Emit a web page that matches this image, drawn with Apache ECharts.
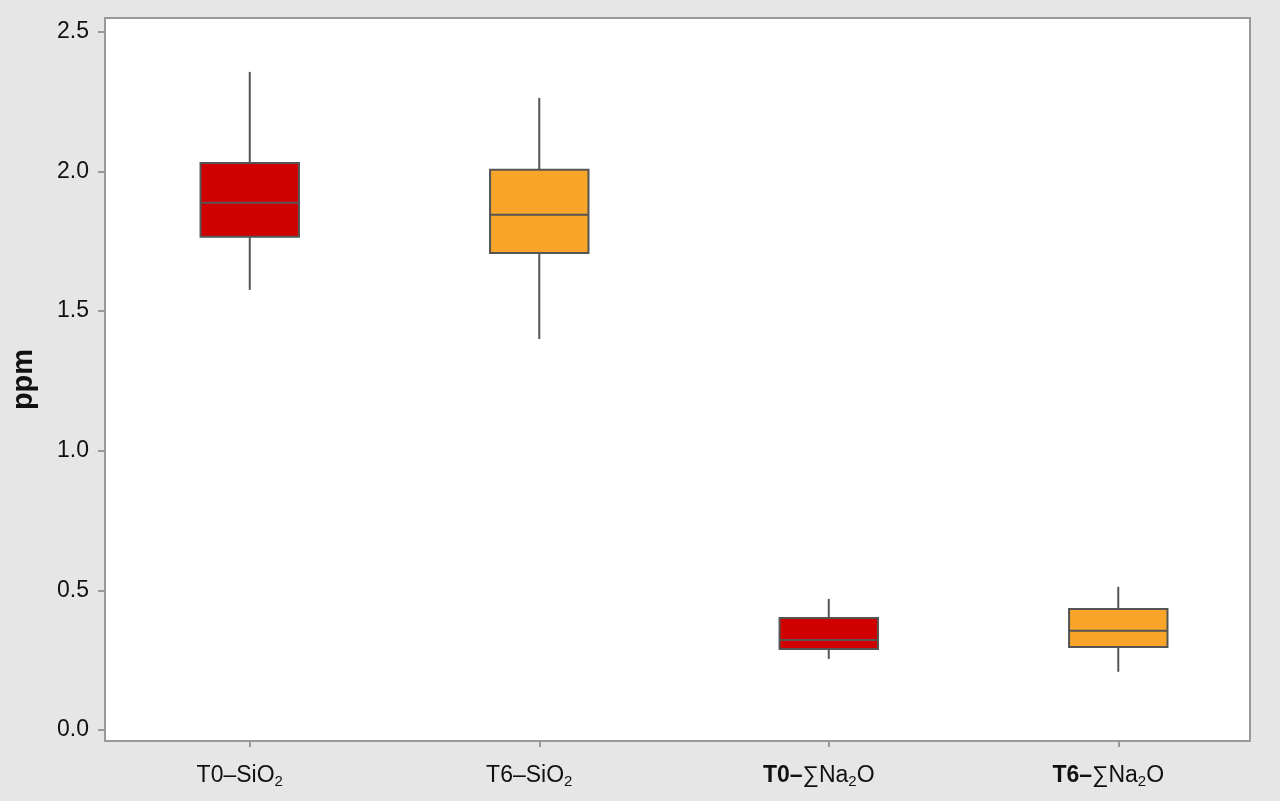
<!DOCTYPE html>
<html><head><meta charset="utf-8">
<script src="https://cdn.jsdelivr.net/npm/echarts@6/dist/echarts.min.js"></script>
<style>html,body{margin:0;padding:0;background:#e6e6e6;}#c{width:1280px;height:801px;}</style>
</head><body><div id="c"></div>
<script>
var categories = ['T0–SiO2', 'T6–SiO2', 'T0–∑Na2O', 'T6–∑Na2O'];
var whiskerLow = [1.576, 1.400, 0.254, 0.208];
var q1 = [1.766, 1.708, 0.290, 0.297];
var median = [1.888, 1.845, 0.322, 0.355];
var q3 = [2.031, 2.006, 0.401, 0.433];
var whiskerHigh = [2.357, 2.264, 0.469, 0.512];
var boxColors = ['#d10000', '#f8a52a', '#d10000', '#f8a52a'];
var yTicks = [0, 0.5, 1.0, 1.5, 2.0, 2.5];
var xLabelsRich = [
  'T0–SiO{sub|2}',
  'T6–SiO{sub|2}',
  '{b|T0–}∑Na{sub|2}O',
  '{b|T6–}∑Na{sub|2}O'
];

var data = categories.map(function (c, i) {
  return [i, whiskerLow[i], q1[i], median[i], q3[i], whiskerHigh[i]];
});

var FONT = 'Liberation Sans, Arial, sans-serif';
var chart = echarts.init(document.getElementById('c'), null, {renderer: 'canvas'});
var lineCol = '#555555';
chart.setOption({
  backgroundColor: '#e6e6e6',
  animation: false,
  grid: {left: 105, right: 30, top: 18, bottom: 60, show: true, backgroundColor: '#ffffff', borderColor: '#999999', borderWidth: 2},
  xAxis: {
    type: 'value', min: -0.5, max: 3.455,
    axisLine: {show: false, onZero: false},
    splitLine: {show: false},
    axisTick: {show: true, length: 6, lineStyle: {color: '#999999', width: 2}, customValues: [0, 1, 2, 3]},
    axisLabel: {
      customValues: [0, 1, 2, 3], margin: 22, padding: [0, 20, 0, 0],
      fontFamily: FONT, fontSize: 23, color: '#111', lineHeight: 26,
      formatter: function (v) { return xLabelsRich[Math.round(v)]; },
      rich: {
        b: {fontWeight: 'bold', fontSize: 23, fontFamily: FONT, color: '#111', lineHeight: 26},
        sub: {fontSize: 15, fontFamily: FONT, color: '#111', lineHeight: 26, padding: [12, 0, 0, 0]}
      }
    }
  },
  yAxis: {
    type: 'value', min: -0.04, max: 2.55,
    name: 'ppm', nameLocation: 'middle', nameRotate: 90, nameGap: 67,
    nameTextStyle: {fontFamily: FONT, fontSize: 29, fontWeight: 'bold', color: '#111'},
    axisLine: {show: false, onZero: false},
    splitLine: {show: false},
    axisTick: {show: true, length: 7, lineStyle: {color: '#999999', width: 2}, customValues: yTicks},
    axisLabel: {customValues: yTicks, margin: 16, fontFamily: FONT, fontSize: 23, color: '#111',
      formatter: function (v) { return v.toFixed(1); }}
  },
  series: [{
    type: 'custom',
    data: data,
    encode: {x: 0, y: [1, 2, 3, 4, 5]},
    renderItem: function (params, api) {
      var x = api.value(0);
      var i = params.dataIndex;
      var half = api.size([1, 0])[0] * 0.34 / 2;
      var pLow = api.coord([x, api.value(1)]);
      var pQ1 = api.coord([x, api.value(2)]);
      var pMed = api.coord([x, api.value(3)]);
      var pQ3 = api.coord([x, api.value(4)]);
      var pHigh = api.coord([x, api.value(5)]);
      var ls = {stroke: lineCol, lineWidth: 2};
      return {
        type: 'group',
        children: [
          {type: 'line', shape: {x1: pLow[0], y1: pLow[1], x2: pQ1[0], y2: pQ1[1]}, style: ls},
          {type: 'line', shape: {x1: pQ3[0], y1: pQ3[1], x2: pHigh[0], y2: pHigh[1]}, style: ls},
          {type: 'rect', shape: {x: pQ3[0] - half, y: pQ3[1], width: half * 2, height: pQ1[1] - pQ3[1]},
            style: {fill: boxColors[i], stroke: lineCol, lineWidth: 2}},
          {type: 'line', shape: {x1: pMed[0] - half, y1: pMed[1], x2: pMed[0] + half, y2: pMed[1]}, style: ls}
        ]
      };
    }
  }]
});
</script></body></html>
